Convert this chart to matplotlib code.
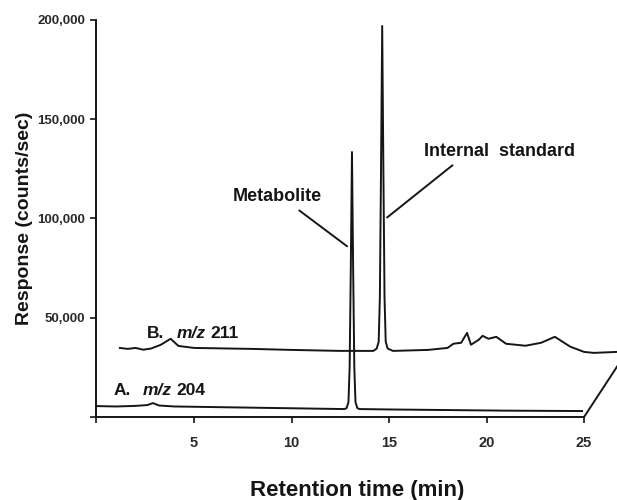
import matplotlib.pyplot as plt
from matplotlib.ticker import FuncFormatter

plt.rcParams['font.family'] = ['Liberation Sans', 'DejaVu Sans']

# trace A, m/z 204 (front trace)
a_time = [0.0, 1.0, 2.0, 2.6, 2.9, 3.2, 4.0, 6.0, 8.0, 10.0, 12.0, 12.7,
          12.82, 12.92, 12.98, 13.04, 13.1, 13.16, 13.22, 13.28, 13.38, 13.5,
          15.0, 18.0, 21.0, 24.9]
a_resp = [5500, 5300, 5600, 6000, 7000, 5800, 5300, 5000, 4700, 4400, 4100, 4000,
          4400, 7500, 25000, 75000, 133500, 75000, 25000, 7500, 4400, 4000,
          3800, 3500, 3200, 3000]

# trace B, m/z 211 (back trace, drawn with perspective offset)
b_time = [1.2, 1.6, 2.0, 2.4, 2.8, 3.3, 3.8, 4.2, 5.0, 8.0, 10.0, 12.5,
          14.2, 14.37, 14.47, 14.53, 14.59, 14.65, 14.71, 14.77, 14.83, 14.93, 15.2,
          17.0, 18.0, 18.3, 18.7, 19.0, 19.2, 19.6, 19.8, 20.1, 20.5,
          21.0, 22.0, 22.8, 23.5, 24.3, 25.0, 25.5, 26.7, 27.2]
b_resp = [34800, 34300, 34800, 33900, 34500, 36400, 39400, 35800, 34800, 34300, 33800, 33300,
          33300, 34500, 38000, 60000, 125000, 197000, 125000, 60000, 38000, 34500, 33300,
          33800, 34800, 36900, 37400, 42400, 36400, 38900, 40900, 39400, 40400,
          36900, 35900, 37400, 40400, 35400, 32800, 32300, 32800, 33000]

x_ticks = [0, 5, 10, 15, 20, 25]
y_ticks = [0, 50000, 100000, 150000, 200000]
ink = '#151515'

fig = plt.figure(figsize=(6.17, 5.0), dpi=100)
ax = fig.add_axes([0.1564, 0.166, 0.8436, 0.794])

ax.plot(a_time, a_resp, color=ink, lw=1.4, clip_on=False)
ax.plot(b_time, b_resp, color=ink, lw=1.4)
# perspective edge joining end of time axis to the back trace
ax.plot([x_ticks[-1], b_time[-1]], [0, b_resp[-1]], color=ink, lw=1.4, clip_on=False)

ax.set_xlim(0, 26.69)
ax.set_ylim(0, 200000)
for s in ['top', 'right']:
    ax.spines[s].set_visible(False)
ax.spines['left'].set_bounds(0, 200000)
ax.spines['bottom'].set_bounds(0, 25)
for s in ['left', 'bottom']:
    ax.spines[s].set_linewidth(1.4)
    ax.spines[s].set_color(ink)

ax.set_xticks(x_ticks)
ax.set_yticks(y_ticks)
ax.xaxis.set_major_formatter(FuncFormatter(lambda v, p: '' if v == 0 else f'{int(v)}'))
ax.yaxis.set_major_formatter(FuncFormatter(lambda v, p: '' if v == 0 else f'{int(v):,}'))
ax.tick_params(axis='both', direction='out', length=4, width=1.2, color=ink)
ax.tick_params(axis='x', labelsize=10.5, pad=10)
ax.tick_params(axis='y', labelsize=9.5, pad=4)
for lab in ax.get_xticklabels() + ax.get_yticklabels():
    lab.set_fontweight('bold')
    lab.set_color('#2a2a2a')

ax.set_xlabel('Retention time (min)', fontsize=16, fontweight='bold', labelpad=21, color=ink)
ax.set_ylabel('Response (counts/sec)', fontsize=14, fontweight='bold', labelpad=3, color=ink)

# peak labels with leader lines
ax.annotate('Metabolite', xy=(12.85, 86000), xytext=(9.26, 111000),
            ha='center', va='center', fontsize=13, fontweight='bold', color=ink,
            arrowprops=dict(arrowstyle='-', color=ink, lw=1.4, relpos=(0.67, 0), shrinkA=3, shrinkB=0))
ax.annotate('Internal  standard', xy=(14.9, 100500), xytext=(20.69, 133800),
            ha='center', va='center', fontsize=13, fontweight='bold', color=ink,
            arrowprops=dict(arrowstyle='-', color=ink, lw=1.4, relpos=(0.23, 0), shrinkA=3, shrinkB=0))


def trace_label(prefix, number, x, y):
    t1 = ax.text(x, y, prefix, fontsize=12.5, fontweight='bold', color=ink, va='baseline')
    t2 = ax.annotate('m/z', xy=(1, 0), xycoords=t1, xytext=(9, 0), textcoords='offset points',
                     fontsize=12.5, fontweight='bold', style='italic', color=ink, va='bottom')
    ax.annotate(number, xy=(1, 0), xycoords=t2, xytext=(3, 0), textcoords='offset points',
                fontsize=12.5, fontweight='bold', color=ink, va='bottom')


trace_label('B.', '211', 2.59, 40000)
trace_label('A.', '204', 0.85, 11300)

fig.savefig('out.png', dpi=100, facecolor='white')
